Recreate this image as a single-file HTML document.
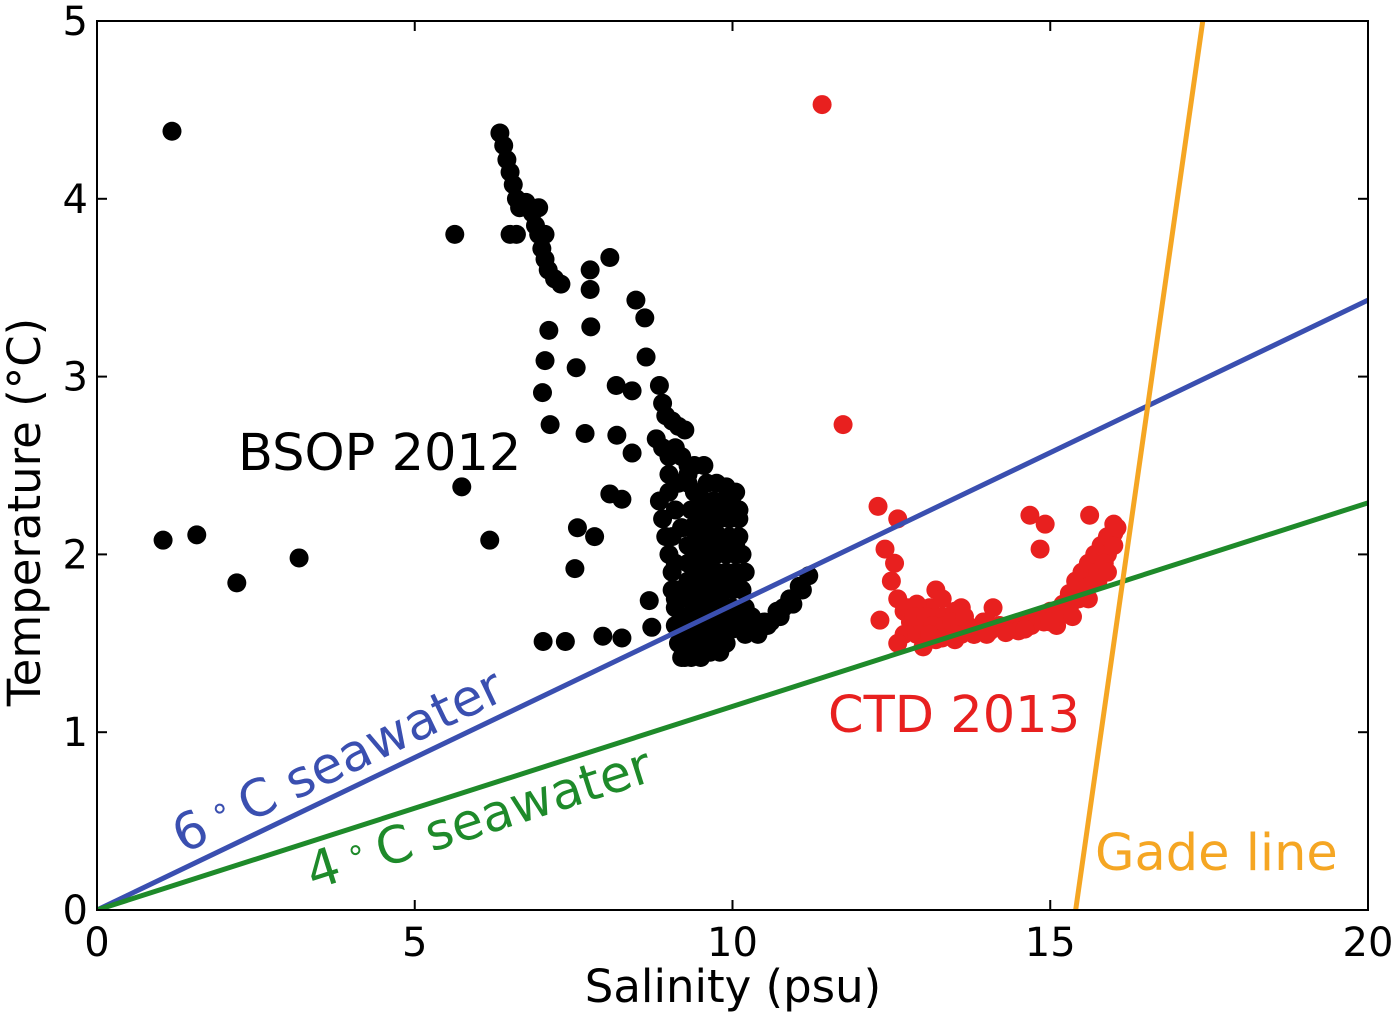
<!DOCTYPE html>
<html><head><meta charset="utf-8"><style>
html,body{margin:0;padding:0;background:#fff;}
svg{display:block;font-family:"DejaVu Sans","Liberation Sans",sans-serif;}
</style></head><body>
<svg id="chart" width="1400" height="1026" viewBox="0 0 1400 1026" xmlns="http://www.w3.org/2000/svg">
<g id="points"></g>
<g id="lines"></g>
<g id="frame"></g>
<text x="238" y="470" font-size="51" fill="#000">BSOP 2012</text>
<text x="828" y="732" font-size="51" fill="#e8201f">CTD 2013</text>
<text x="1095" y="870" font-size="51" fill="#f5a623">Gade line</text>
<text transform="translate(183,854) rotate(-25.6)" font-size="51" fill="#3a4fb0">6<tspan font-size="32" dy="-15"> ∘ </tspan><tspan dy="15">C seawater</tspan></text>
<text transform="translate(313,890) rotate(-17.8)" font-size="51" fill="#1e8a2a">4<tspan font-size="32" dy="-15"> ∘ </tspan><tspan dy="15">C seawater</tspan></text>
<text x="733" y="1002" font-size="45" text-anchor="middle" fill="#000">Salinity (psu)</text>
<text transform="translate(40,512) rotate(-90)" font-size="45" text-anchor="middle" fill="#000">Temperature (°C)</text>
</svg>
<script>
const xTicks=[0,5,10,15,20];
const yTicks=[0,1,2,3,4,5];
const bsopSal=[1.18,1.04,1.57,2.2,3.18,5.63,5.74,6.18,
6.34,6.4,6.45,6.5,6.55,6.6,6.65,6.75,6.85,6.9,6.95,7.0,7.05,7.1,7.2,7.3,6.5,6.6,6.95,7.05,
7.76,8.07,7.76,8.48,8.62,7.11,7.77,8.64,7.05,7.54,7.01,8.17,8.42,7.13,7.68,8.18,8.42,8.07,7.56,7.83,7.52,8.26,7.02,7.37,7.96,8.26,8.69,8.73,
8.85,8.9,8.95,9.05,9.15,9.25,8.8,8.9,9.0,9.1,9.2,9.3,9.0,9.15,9.3,9.4,9.5,
8.85,8.9,8.95,9.0,9.05,9.05,9.1,9.1,9.15,9.2,9.3,9.25,9.2,9.15,9.1,9.05,9.3,
9.6,9.75,9.9,10.05,9.55,9.7,9.85,10.0,10.1,9.5,9.65,9.8,9.95,10.1,9.5,9.65,9.8,9.95,10.1,9.45,9.6,9.75,9.9,10.05,10.15,9.45,9.6,9.75,9.9,10.05,10.2,9.4,9.55,9.7,9.85,10.0,10.15,9.4,9.55,9.7,9.85,10.0,10.2,9.4,9.55,9.7,9.85,10.0,10.2,10.3,
9.35,9.5,9.65,9.8,9.95,10.1,9.3,9.45,9.6,9.75,9.9,10.05,9.3,9.45,9.6,9.75,9.9,10.05,9.35,9.5,9.65,9.8,9.95,10.1,9.3,9.45,9.6,9.75,9.9,9.25,9.35,9.5,9.65,9.8,9.3,9.4,9.55,9.2,9.35,9.5,9.7,9.3,9.45,9.6,9.0,9.1,9.2,9.1,9.2,9.35,9.5,9.65,9.8,
10.3,10.5,10.7,10.9,11.05,11.2,10.4,10.6,10.8,10.2,10.4,10.55,10.75,10.95,11.1];
const bsopTemp=[4.38,2.08,2.11,1.84,1.98,3.80,2.38,2.08,
4.37,4.3,4.22,4.15,4.08,4.0,3.95,3.98,3.92,3.85,3.8,3.72,3.66,3.6,3.55,3.52,3.8,3.8,3.95,3.8,
3.6,3.67,3.49,3.43,3.33,3.26,3.28,3.11,3.09,3.05,2.91,2.95,2.92,2.73,2.68,2.67,2.57,2.34,2.15,2.10,1.92,2.31,1.51,1.51,1.54,1.53,1.74,1.59,
2.95,2.85,2.78,2.75,2.72,2.7,2.65,2.6,2.55,2.6,2.55,2.5,2.45,2.4,2.4,2.35,2.3,
2.3,2.2,2.1,2.0,1.9,1.8,1.7,1.6,1.5,1.42,1.45,1.55,1.65,1.8,1.95,2.1,1.6,
2.4,2.4,2.38,2.35,2.3,2.3,2.3,2.28,2.25,2.2,2.2,2.2,2.2,2.2,2.1,2.1,2.1,2.1,2.1,2.0,2.0,2.0,2.0,2.0,2.0,1.9,1.9,1.9,1.9,1.9,1.9,1.8,1.8,1.8,1.8,1.8,1.8,1.7,1.7,1.7,1.7,1.7,1.7,1.58,1.58,1.58,1.58,1.58,1.58,1.6,
2.25,2.25,2.25,2.25,2.25,2.25,2.05,2.05,2.05,2.05,2.05,2.05,1.85,1.85,1.85,1.85,1.85,1.85,1.65,1.65,1.65,1.65,1.65,1.65,1.5,1.5,1.5,1.5,1.5,1.42,1.42,1.42,1.45,1.45,2.45,2.5,2.5,2.15,2.15,2.15,2.15,1.95,1.95,1.95,2.35,2.25,2.15,1.75,1.75,1.75,1.75,1.75,1.75,
1.65,1.62,1.68,1.75,1.82,1.88,1.6,1.62,1.7,1.55,1.55,1.6,1.65,1.72,1.8];
const ctdSal=[11.41,11.74,12.29,12.6,12.4,12.32,14.68,14.92,14.84,15.62,16.0,
12.5,12.6,12.7,12.8,12.7,12.9,13.0,13.1,13.2,13.3,13.4,13.5,13.6,13.7,13.8,13.9,14.0,14.2,14.4,14.6,14.8,15.0,15.2,15.3,15.4,15.5,15.6,15.7,15.8,15.9,16.0,15.75,15.9,13.2,13.0,12.6,13.6,12.9,13.3,14.1,13.5,12.55,15.1,
12.75,12.85,13.05,13.15,13.35,13.45,13.65,13.75,13.95,14.05,14.3,14.5,14.7,14.9,15.1,15.3,15.45,15.6,15.75,15.85,16.0,13.1,13.3,13.5,13.8,14.0,14.3,14.6,15.0,15.35,15.6,15.9,16.05];
const ctdTemp=[4.53,2.73,2.27,2.2,2.03,1.63,2.22,2.17,2.03,2.22,2.17,
1.85,1.75,1.68,1.62,1.55,1.55,1.6,1.7,1.8,1.65,1.58,1.52,1.55,1.6,1.55,1.58,1.62,1.6,1.6,1.62,1.65,1.68,1.72,1.78,1.85,1.9,1.95,2.0,2.05,2.1,2.12,1.85,2.0,1.52,1.48,1.5,1.7,1.72,1.75,1.7,1.68,1.95,1.6,
1.7,1.65,1.65,1.6,1.6,1.62,1.65,1.58,1.62,1.57,1.56,1.57,1.6,1.62,1.65,1.7,1.75,1.82,1.9,1.95,2.05,1.55,1.53,1.55,1.55,1.55,1.57,1.58,1.62,1.65,1.75,1.9,2.15];
const lineNames=['seawater-6c-line','seawater-4c-line','gade-line'];
const lineS0=[0,0,15.4];
const lineT0=[0,0,0];
const lineS1=[20,20,17.4];
const lineT1=[3.43,2.29,5];
const lineColors=['#3a4fb0','#1e8a2a','#f5a623'];

const X0=97,X1=1368,Y0=910,Y1=21;
const sx=s=>X0+(s-0)/20*(X1-X0);
const sy=t=>Y0-(t-0)/5*(Y0-Y1);
const NS='http://www.w3.org/2000/svg';
function mk(tag,parent,attrs){const e=document.createElementNS(NS,tag);for(const k in attrs)e.setAttribute(k,attrs[k]);parent.appendChild(e);return e;}
const gp=document.getElementById('points');
bsopSal.forEach((s,i)=>{const c=mk('circle',gp,{cx:sx(s),cy:sy(bsopTemp[i]),r:9.5,fill:'#000'});

});
ctdSal.forEach((s,i)=>{const c=mk('circle',gp,{cx:sx(s),cy:sy(ctdTemp[i]),r:9.5,fill:'#e8201f'});

});
const gl=document.getElementById('lines');
lineNames.forEach((n,i)=>{const l=mk('line',gl,{x1:sx(lineS0[i]),y1:sy(lineT0[i]),x2:sx(lineS1[i]),y2:sy(lineT1[i]),stroke:lineColors[i],'stroke-width':5});

});
const gf=document.getElementById('frame');
const cp=mk('clipPath',gf,{id:'clip'});mk('rect',cp,{x:X0,y:Y1,width:X1-X0,height:Y0-Y1});
gp.setAttribute('clip-path','url(#clip)');gl.setAttribute('clip-path','url(#clip)');
const fr=mk('rect',gf,{x:X0,y:Y1,width:X1-X0,height:Y0-Y1,fill:'none',stroke:'#000','stroke-width':2});


xTicks.forEach(v=>{const x=sx(v);
mk('line',gf,{x1:x,y1:Y0,x2:x,y2:Y0-10,stroke:'#000','stroke-width':2});
mk('line',gf,{x1:x,y1:Y1,x2:x,y2:Y1+10,stroke:'#000','stroke-width':2});
const t=mk('text',gf,{x:x,y:956,'font-size':40,'text-anchor':'middle',fill:'#000'});t.textContent=v;

});
yTicks.forEach(v=>{const y=sy(v);
mk('line',gf,{x1:X0,y1:y,x2:X0+10,y2:y,stroke:'#000','stroke-width':2});
mk('line',gf,{x1:X1,y1:y,x2:X1-10,y2:y,stroke:'#000','stroke-width':2});
const t=mk('text',gf,{x:88,y:y+14,'font-size':40,'text-anchor':'end',fill:'#000'});t.textContent=v;

});
</script>
</body></html>
